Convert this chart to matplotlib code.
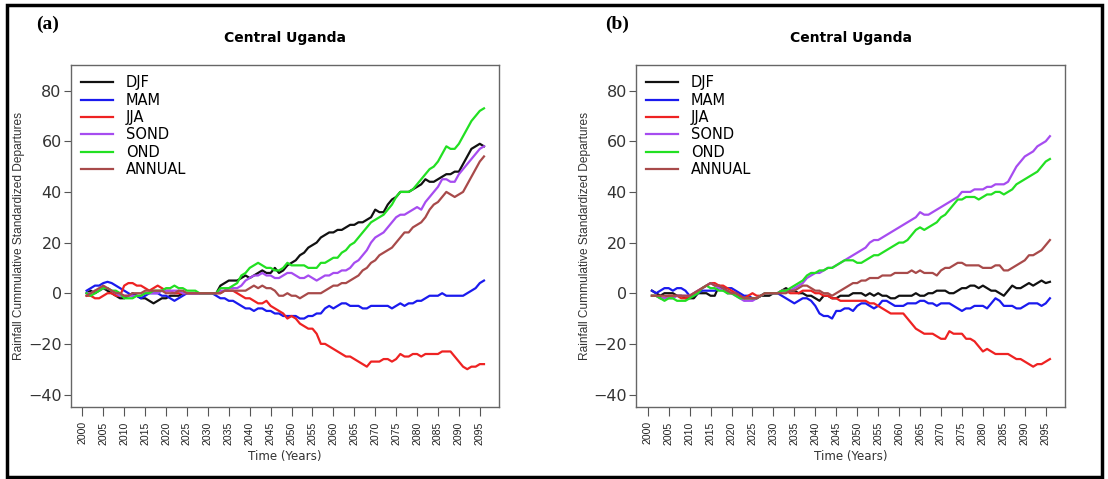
import numpy as np
import matplotlib
matplotlib.use("Agg")
import matplotlib.pyplot as plt
from matplotlib.patches import Rectangle

years = list(range(2001, 2097))
labels = ["DJF", "MAM", "JJA", "SOND", "OND", "ANNUAL"]
colors = ["#111111", "#1a1aee", "#ee2222", "#a64cf0", "#22e022", "#a84a4a"]

# panel (a)
djf_a = [0, 1, 0, 1, 2, 1, 0, -1, -2, -2,
         -1, 0, -1, -2, -2, -3, -4, -3, -2, -2,
         -1, -1, -1, 0, 0, 0, 0, 0, 0, 0,
         0, 0, 3, 4, 5, 5, 5, 6, 7, 6,
         7, 8, 9, 8, 8, 10, 8, 9, 11, 12,
         13, 15, 16, 18, 19, 20, 22, 23, 24, 24,
         25, 25, 26, 27, 27, 28, 28, 29, 30, 33,
         32, 32, 35, 37, 38, 40, 40, 40, 41, 42,
         43, 45, 44, 44, 45, 46, 47, 47, 48, 48,
         51, 54, 57, 58, 59, 58]
mam_a = [1, 2, 3, 3, 4, 4.5, 4, 3, 2, 1,
         0, -1, -1, -2, -1, 0, 0, 0, -1, -1,
         -2, -3, -2, -1, 0, 0, 0, 0, 0, 0,
         0, -1, -2, -2, -3, -3, -4, -5, -6, -6,
         -7, -6, -6, -7, -7, -8, -8, -9, -9, -9,
         -9, -10, -10, -9, -9, -8, -8, -6, -5, -6,
         -5, -4, -4, -5, -5, -5, -6, -6, -5, -5,
         -5, -5, -5, -6, -5, -4, -5, -4, -4, -3,
         -3, -2, -1, -1, -1, 0, -1, -1, -1, -1,
         -1, 0, 1, 2, 4, 5]
jja_a = [-1, -1, -2, -2, -1, 0, 0, -1, -1, 3,
         4, 4, 3, 3, 2, 1, 2, 3, 2, 1,
         1, 0, 0, 0, 0, 0, 0, 0, 0, 0,
         0, 0, 0, 1, 1, 1, 0, -1, -2, -2,
         -3, -4, -4, -3, -5, -6, -7, -8, -10, -9,
         -10, -12, -13, -14, -14, -16, -20, -20, -21, -22,
         -23, -24, -25, -25, -26, -27, -28, -29, -27, -27,
         -27, -26, -26, -27, -26, -24, -25, -25, -24, -24,
         -25, -24, -24, -24, -24, -23, -23, -23, -25, -27,
         -29, -30, -29, -29, -28, -28]
sond_a = [0, 0, 1, 1, 2, 2, 1, 0, -1, -1,
          -1, -1, -1, -1, 0, 0, 0, 0, 1, 1,
          1, 1, 1, 0, 0, 0, 0, 0, 0, 0,
          0, 0, 1, 1, 2, 2, 2, 3, 5, 6,
          7, 7, 8, 7, 7, 6, 6, 7, 8, 8,
          7, 6, 6, 7, 6, 5, 6, 7, 7, 8,
          8, 9, 9, 10, 12, 13, 15, 17, 20, 22,
          23, 24, 26, 28, 30, 31, 31, 32, 33, 34,
          33, 36, 38, 40, 42, 45, 45, 44, 44, 47,
          49, 51, 53, 55, 57, 58]
ond_a = [0, -1, 0, 1, 2, 2, 1, 1, 0, -2,
         -2, -2, -1, -1, 0, 0, 1, 1, 1, 2,
         2, 3, 2, 2, 1, 1, 1, 0, 0, 0,
         0, 0, 2, 2, 2, 3, 4, 7, 8, 10,
         11, 12, 11, 10, 10, 9, 9, 10, 12, 11,
         11, 11, 11, 10, 10, 10, 12, 12, 13, 14,
         14, 16, 17, 19, 20, 22, 24, 26, 28, 29,
         30, 31, 33, 35, 38, 40, 40, 40, 41, 43,
         45, 47, 49, 50, 52, 55, 58, 57, 57, 59,
         62, 65, 68, 70, 72, 73]
annual_a = [-1, 0, 1, 2, 3, 2, 1, 0, 0, -1,
            -1, 0, 0, 0, 1, 1, 1, 1, 1, 0,
            0, 0, 1, 1, 0, 0, 0, 0, 0, 0,
            0, 0, 0, 1, 1, 1, 1, 1, 1, 2,
            3, 2, 3, 2, 2, 1, -1, -1, 0, -1,
            -1, -2, -1, 0, 0, 0, 0, 1, 2, 3,
            3, 4, 4, 5, 6, 7, 9, 10, 12, 13,
            15, 16, 17, 18, 20, 22, 24, 24, 26, 27,
            28, 30, 33, 35, 36, 38, 40, 39, 38, 39,
            40, 43, 46, 49, 52, 54]

# panel (b)
djf_b = [1, 0, -1, 0, 0, 0, -1, -1, -2, -2,
         -2, 0, 0, 0, -1, -1, 3, 2, 0, 0,
         0, -1, -2, -2, -2, -2, -1, -1, -1, 0,
         0, 1, 2, 1, 1, 0, 0, -1, -1, -2,
         -3, -1, -1, -2, -2, -1, -1, -1, 0, 0,
         0, -1, 0, -1, 0, -1, -1, -2, -2, -1,
         -1, -1, -1, 0, -1, -1, 0, 0, 1, 1,
         1, 0, 0, 1, 2, 2, 3, 3, 2, 3,
         2, 1, 1, 0, -1, 1, 3, 2, 2, 3,
         4, 3, 4, 5, 4, 4.5]
mam_b = [1, 0, 1, 2, 2, 1, 2, 2, 1, -1,
         -1, 0, 1, 1, 1, 1, 2, 2, 2, 2,
         1, 0, -1, -1, -2, -2, -1, 0, 0, 0,
         0, -1, -2, -3, -4, -3, -2, -2, -3, -5,
         -8, -9, -9, -10, -7, -7, -6, -6, -7, -5,
         -4, -4, -5, -6, -5, -3, -3, -4, -5, -5,
         -5, -4, -4, -4, -3, -3, -4, -4, -5, -4,
         -4, -4, -5, -6, -7, -6, -6, -5, -5, -5,
         -6, -4, -2, -3, -5, -5, -5, -6, -6, -5,
         -4, -4, -4, -5, -4, -2]
jja_b = [-1, -1, -2, -2, -1, -1, -1, -2, -2, -1,
         0, 1, 2, 3, 4, 4, 3, 3, 2, 1,
         0, -1, -2, -1, 0, -1, -1, 0, 0, 0,
         0, 1, 1, 0, 0, 0, 1, 1, 1, 0,
         0, -1, -1, -2, -2, -3, -3, -3, -3, -3,
         -3, -3, -4, -4, -5, -6, -7, -8, -8, -8,
         -8, -10, -12, -14, -15, -16, -16, -16, -17, -18,
         -18, -15, -16, -16, -16, -18, -18, -19, -21, -23,
         -22, -23, -24, -24, -24, -24, -25, -26, -26, -27,
         -28, -29, -28, -28, -27, -26]
sond_b = [-1, -1, -2, -2, -2, -2, -1, -1, -1, -1,
          0, 1, 2, 3, 4, 3, 2, 1, 1, 0,
          -1, -2, -3, -3, -3, -2, -1, 0, 0, 0,
          0, 1, 1, 1, 2, 3, 4, 6, 7, 8,
          8, 9, 10, 10, 11, 12, 13, 14, 15, 16,
          17, 18, 20, 21, 21, 22, 23, 24, 25, 26,
          27, 28, 29, 30, 32, 31, 31, 32, 33, 34,
          35, 36, 37, 38, 40, 40, 40, 41, 41, 41,
          42, 42, 43, 43, 43, 44, 47, 50, 52, 54,
          55, 56, 58, 59, 60, 62]
ond_b = [-1, -1, -2, -3, -2, -2, -3, -3, -3, -2,
         -1, 0, 2, 3, 2, 2, 1, 1, 0, 0,
         -1, -2, -2, -2, -2, -2, -1, 0, 0, 0,
         0, 1, 1, 2, 3, 4, 5, 7, 8, 8,
         9, 9, 10, 10, 11, 12, 13, 13, 13, 12,
         12, 13, 14, 15, 15, 16, 17, 18, 19, 20,
         20, 21, 23, 25, 26, 25, 26, 27, 28, 30,
         31, 33, 35, 37, 37, 38, 38, 38, 37, 38,
         39, 39, 40, 40, 39, 40, 41, 43, 44, 45,
         46, 47, 48, 50, 52, 53]
annual_b = [-1, -1, -1, -1, -1, -1, -1, -1, -1, -1,
            0, 1, 2, 3, 4, 3, 3, 2, 1, 0,
            0, -1, -2, -2, -2, -2, -1, 0, 0, 0,
            0, 0, 0, 1, 1, 2, 3, 3, 2, 1,
            1, 0, 0, -1, 0, 1, 2, 3, 4, 4,
            5, 5, 6, 6, 6, 7, 7, 7, 8, 8,
            8, 8, 9, 8, 9, 8, 8, 8, 7, 9,
            10, 10, 11, 12, 12, 11, 11, 11, 11, 10,
            10, 10, 11, 11, 9, 9, 10, 11, 12, 13,
            15, 15, 16, 17, 19, 21]

plt.rcParams["font.family"] = ["DejaVu Sans"]

fig = plt.figure(figsize=(11.08, 4.79), dpi=100)
ax_a = fig.add_axes([0.0638, 0.151, 0.3866, 0.7127])
ax_b = fig.add_axes([0.574, 0.151, 0.3872, 0.7127])

panels = [(ax_a, [djf_a, mam_a, jja_a, sond_a, ond_a, annual_a], "(a)", 0.0325),
          (ax_b, [djf_b, mam_b, jja_b, sond_b, ond_b, annual_b], "(b)", 0.546)]

for ax, series, tag, tag_x in panels:
    for vals, lab, col in zip(series, labels, colors):
        ax.plot(years, vals, color=col, lw=1.6, label=lab)
    ax.set_xlim(1997.2, 2099.6)
    ax.set_ylim(-44.8, 90)
    ax.set_xticks(range(2000, 2096, 5))
    ax.set_xticklabels([str(y) for y in range(2000, 2096, 5)], rotation=90,
                       fontsize=7.6, family="Liberation Sans", color="#222222")
    ax.set_yticks([-40, -20, 0, 20, 40, 60, 80])
    ax.tick_params(axis="y", labelsize=11.5, labelcolor="#333333", length=5,
                   width=0.8, color="#555555", pad=1.5)
    ax.tick_params(axis="x", length=6.5, width=0.8, color="#555555", pad=4)
    for s in ax.spines.values():
        s.set_color("#666666")
        s.set_linewidth(1.0)
    ax.set_title("Central Uganda", fontsize=10, fontweight="bold", pad=17)
    ax.set_xlabel("Time (Years)", fontsize=8.6, color="#333333", va="center")
    ax.xaxis.set_label_coords(0.5, -0.1465)
    ax.set_ylabel("Rainfall Cummulative Standardized Departures", fontsize=8.6,
                  family="Liberation Sans", color="#333333", va="center")
    ax.yaxis.set_label_coords(-0.12, 0.5)
    ax.legend(loc="upper left", frameon=False, fontsize=10.5, handlelength=2.2,
              handletextpad=0.87, labelspacing=0.16, borderaxespad=0.3)
    fig.text(tag_x, 0.949, tag, fontsize=14, fontweight="bold",
             family="Liberation Serif", va="center")

# outer frame
fig.patches.append(Rectangle((0.006, 0.004), 0.989, 0.986, transform=fig.transFigure,
                             fill=False, edgecolor="black", lw=2.5))

fig.savefig("out.png", dpi=100)
